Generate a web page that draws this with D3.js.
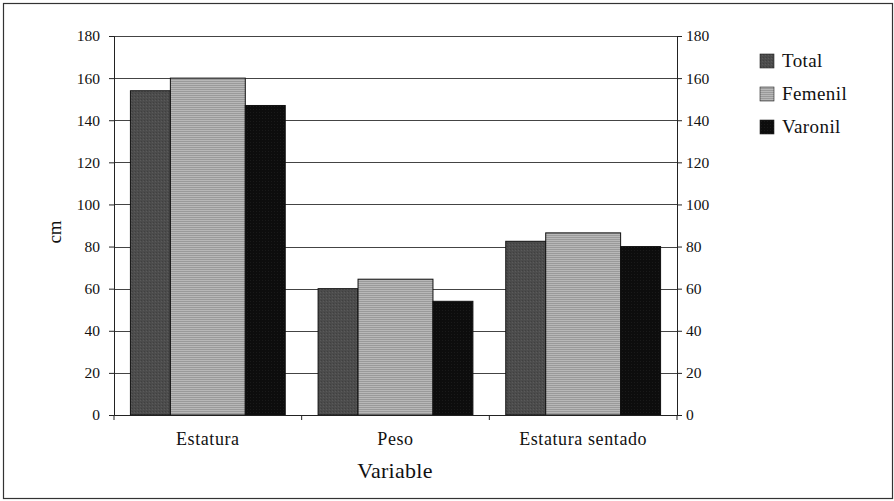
<!DOCTYPE html>
<html>
<head>
<meta charset="utf-8">
<script src="https://cdn.jsdelivr.net/npm/d3@7"></script>
<style>
  body { margin: 0; background: #fff; }
  svg, svg text { font-family: "Liberation Serif", serif !important; }
</style>
</head>
<body>
<div id="chart"></div>
<script>
const width = 894;
const height = 501;

const categories = ["Estatura", "Peso", "Estatura sentado"];
const seriesNames = ["Total", "Femenil", "Varonil"];
const total = [154, 60, 82.5];
const femenil = [160, 64.5, 86.5];
const varonil = [147, 54, 80];
const yTicks = [0, 20, 40, 60, 80, 100, 120, 140, 160, 180];

const margin = { top: 36, right: 217, bottom: 86, left: 114 };
const plotW = width - margin.left - margin.right;
const plotH = height - margin.top - margin.bottom;

const svg = d3.select("#chart")
  .append("svg")
  .attr("width", width)
  .attr("height", height);

// textures for the bars
const defs = svg.append("defs");
const pTotal = defs.append("pattern").attr("id", "pTotal")
  .attr("patternUnits", "userSpaceOnUse").attr("width", 3).attr("height", 3);
pTotal.append("rect").attr("width", 3).attr("height", 3).attr("fill", "#4c4c4c");
pTotal.append("rect").attr("width", 1).attr("height", 1).attr("fill", "#404040");
pTotal.append("rect").attr("x", 2).attr("y", 1).attr("width", 1).attr("height", 1).attr("fill", "#5a5a5a");

const pFem = defs.append("pattern").attr("id", "pFem")
  .attr("patternUnits", "userSpaceOnUse").attr("width", 4).attr("height", 2);
pFem.append("rect").attr("width", 4).attr("height", 2).attr("fill", "#b8b8b8");
pFem.append("rect").attr("y", 1).attr("width", 4).attr("height", 1).attr("fill", "#9a9a9a");

const pVar = defs.append("pattern").attr("id", "pVar")
  .attr("patternUnits", "userSpaceOnUse").attr("width", 3).attr("height", 3);
pVar.append("rect").attr("width", 3).attr("height", 3).attr("fill", "#0d0d0d");
pVar.append("rect").attr("x", 1).attr("y", 1).attr("width", 1).attr("height", 1).attr("fill", "#1a1a1a");

const fills = ["url(#pTotal)", "url(#pFem)", "url(#pVar)"];
const widths = [1, 1.875, 1];

// outer frame
svg.append("rect")
  .attr("x", 3.5).attr("y", 3.5)
  .attr("width", width - 5).attr("height", height - 6)
  .attr("fill", "none").attr("stroke", "#333").attr("stroke-width", 1.2);

const g = svg.append("g").attr("transform", `translate(${margin.left},${margin.top})`);

const x0 = d3.scaleBand().domain(categories).range([0, plotW]).paddingInner(0.175).paddingOuter(0.0875);
const y = d3.scaleLinear().domain([0, 180]).range([plotH, 0]);

// gridlines
g.append("g").selectAll("line")
  .data(yTicks.filter(t => t > 0))
  .join("line")
  .attr("x1", 0).attr("x2", plotW)
  .attr("y1", d => Math.round(y(d)) + 0.5).attr("y2", d => Math.round(y(d)) + 0.5)
  .attr("stroke", "#444").attr("stroke-width", 1);

// bars
const wSum = d3.sum(widths);
const xi = d3.scaleLinear().domain([0, wSum]).range([0, x0.bandwidth()]);
const offsets = d3.cumsum([0].concat(widths));
const series = [total, femenil, varonil];

series.forEach((vals, s) => {
  g.append("g").selectAll("rect")
    .data(categories.map((c, i) => ({ c, v: vals[i] })))
    .join("rect")
    .attr("x", d => x0(d.c) + xi(offsets[s]))
    .attr("y", d => y(d.v))
    .attr("width", xi(widths[s]))
    .attr("height", d => plotH - y(d.v))
    .attr("fill", fills[s])
    .attr("stroke", "#111")
    .attr("stroke-width", 1);
});

function styleAxis(sel) {
  sel.attr("font-family", null).attr("font-size", 15.5);
  sel.select(".domain").attr("stroke", "#222");
  sel.selectAll(".tick line").attr("stroke", "#222");
  sel.selectAll("text").attr("fill", "#111");
}

// left axis
const gl = g.append("g").call(d3.axisLeft(y).tickValues(yTicks).tickSize(5).tickPadding(9));
styleAxis(gl);

// right axis
const gr = g.append("g").attr("transform", `translate(${plotW},0)`)
  .call(d3.axisRight(y).tickValues(yTicks).tickSize(5).tickPadding(4));
styleAxis(gr);

// bottom axis with ticks between categories
const gx = g.append("g").attr("transform", `translate(0,${plotH})`);
gx.append("line").attr("x1", 0).attr("x2", plotW).attr("y1", 0.5).attr("y2", 0.5).attr("stroke", "#222");
const step = plotW / categories.length;
gx.selectAll(".sep")
  .data(d3.range(categories.length + 1))
  .join("line")
  .attr("x1", d => d * step).attr("x2", d => d * step)
  .attr("y1", 0).attr("y2", 5)
  .attr("stroke", "#222");
gx.selectAll(".cat")
  .data(categories)
  .join("text")
  .attr("x", d => x0(d) + x0.bandwidth() / 2)
  .attr("y", 30)
  .attr("text-anchor", "middle")
  .attr("font-size", 18)
  .attr("letter-spacing", 0.6)
  .attr("fill", "#111")
  .text(d => d);

// axis titles
svg.append("text")
  .attr("x", 395).attr("y", 478)
  .attr("text-anchor", "middle")
  .attr("font-size", 22)
  .attr("letter-spacing", 0.3)
  .attr("fill", "#111")
  .text("Variable");

svg.append("text")
  .attr("transform", "translate(61,232) rotate(-90)")
  .attr("text-anchor", "middle")
  .attr("font-size", 19)
  .attr("fill", "#111")
  .text("cm");

// legend
const legend = svg.append("g").attr("transform", "translate(760,54)");
const items = legend.selectAll("g")
  .data(seriesNames)
  .join("g")
  .attr("transform", (d, i) => `translate(0,${i * 33})`);
items.append("rect")
  .attr("width", 14).attr("height", 14)
  .attr("fill", (d, i) => fills[i])
  .attr("stroke", "#222").attr("stroke-width", 0.6);
items.append("text")
  .attr("x", 22).attr("y", 13)
  .attr("font-size", 19)
  .attr("letter-spacing", 0.4)
  .attr("fill", "#111")
  .text(d => d);
</script>
</body>
</html>
